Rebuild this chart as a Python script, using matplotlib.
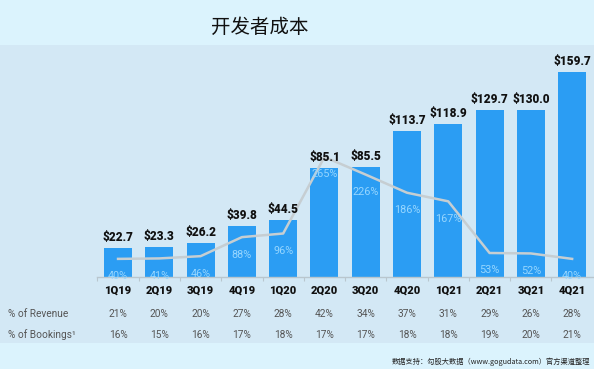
import matplotlib
matplotlib.use("Agg")
import matplotlib.pyplot as plt
from matplotlib.patches import Rectangle
import matplotlib.transforms as mtransforms

plt.rcParams['font.family'] = ['Roboto', 'DejaVu Sans', 'Noto Sans CJK SC']

quarters = ["1Q19", "2Q19", "3Q19", "4Q19", "1Q20", "2Q20", "3Q20", "4Q20", "1Q21", "2Q21", "3Q21", "4Q21"]
cost = [22.7, 23.3, 26.2, 39.8, 44.5, 85.1, 85.5, 113.7, 118.9, 129.7, 130.0, 159.7]
growth = [40, 41, 46, 88, 96, 265, 226, 186, 167, 53, 52, 40]
pct_revenue = [21, 20, 20, 27, 28, 42, 34, 37, 31, 29, 26, 28]
pct_bookings = [16, 15, 16, 17, 18, 17, 17, 18, 18, 19, 20, 21]
title = "开发者成本"
row_labels = ["% of Revenue", "% of Bookings¹"]
source = "数据支持：勾股大数据（www.gogudata.com）官方渠道整理"

W, H = 594, 369
fig = plt.figure(figsize=(W / 100, H / 100), dpi=100)
fig.patch.set_facecolor('#dbf3fd')

def fy(px):
    return 1 - px / H

# panel background
fig.patches.append(Rectangle((0, fy(343)), 1, (343 - 45) / H, transform=fig.transFigure,
                             facecolor='#d3e8f5', edgecolor='none', zorder=-10))

ax_left, ax_right = 97, 594
ax_top, ax_bot = 45, 277
ax = fig.add_axes([ax_left / W, fy(ax_bot), (ax_right - ax_left) / W, (ax_bot - ax_top) / H])
ax.set_facecolor('none')
x = list(range(len(quarters)))
ax.bar(x, cost, width=0.68, color='#2b9df3', zorder=2)
ax.set_xlim(-0.51, 11.53)
ax.set_ylim(0, 232 / 1.284)
for s in ['top', 'right', 'left']:
    ax.spines[s].set_visible(False)
ax.spines['bottom'].set_color('#b9c6ce')
ax.spines['bottom'].set_linewidth(1.0)
ax.set_yticks([])
ax.set_xticks([i + 0.5 for i in x[:-1]] + [-0.5])
ax.set_xticklabels([])
ax.tick_params(axis='x', length=3, color='#b9c6ce', width=0.8)

ax2 = ax.twinx()
ax2.set_ylim(0, 232 / 0.453)
ax2.set_xlim(-0.51, 11.53)
ax2.axis('off')
ax2.plot(x, growth, color='#c6ced2', lw=1.8, zorder=3)
for xi, g in zip(x, growth):
    ax2.annotate(f"{g}%", (xi, g), xytext=(0, -9), textcoords='offset points',
                 ha='center', va='top', fontsize=7.8, color='#96d6ff', zorder=4)

# value labels drawn above the line
for xi, v in zip(x, cost):
    ax2.annotate(f"${v:.1f}", (xi, v), xycoords=ax.transData, xytext=(0, 3),
                 textcoords='offset points', ha='center', va='bottom', fontsize=8.5,
                 fontweight='black', color='#111111', zorder=5)

# table below
trans = mtransforms.blended_transform_factory(ax.transData, fig.transFigure)
for xi, q in zip(x, quarters):
    fig.text(xi, fy(291), q, transform=trans, ha='center', va='center',
             fontsize=8, fontweight='black', color='#111111')
for xi, r, b in zip(x, pct_revenue, pct_bookings):
    fig.text(xi, fy(314), f"{r}%", transform=trans, ha='center', va='center',
             fontsize=7.3, color='#555555')
    fig.text(xi, fy(335), f"{b}%", transform=trans, ha='center', va='center',
             fontsize=7.3, color='#555555')
fig.text(8 / W, fy(314), row_labels[0], ha='left', va='center', fontsize=7.3, color='#555555')
fig.text(8 / W, fy(335), row_labels[1], ha='left', va='center', fontsize=7.3, color='#555555')

fig.text(260 / W, fy(27), title, ha='center', va='center', fontsize=14,
         family=['Noto Sans CJK SC', 'DejaVu Sans'], color='#111111')
fig.text(590 / W, fy(362), source, ha='right', va='center', fontsize=5.2,
         family=['Noto Sans CJK SC', 'DejaVu Sans'], color='#222222')

fig.savefig('out.png', dpi=100, facecolor=fig.get_facecolor())
